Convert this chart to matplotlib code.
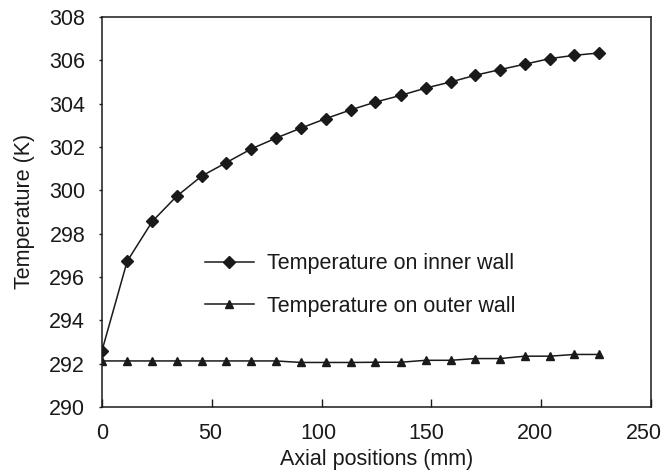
import matplotlib.pyplot as plt
from matplotlib.transforms import ScaledTranslation

plt.rcParams['font.family'] = ['Liberation Sans', 'DejaVu Sans']

# axial positions (mm)
positions = [0, 11.5, 23, 34, 45.5, 56.7, 68, 79.3, 90.6, 102, 113.5,
             124.5, 136, 147.5, 158.8, 170, 181.2, 192.5, 204, 215, 226.4]
# temperatures (K)
inner_wall = [292.58, 296.72, 298.57, 299.72, 300.66, 301.28, 301.91, 302.41,
              302.87, 303.31, 303.72, 304.07, 304.38, 304.72, 305.00, 305.31,
              305.57, 305.82, 306.08, 306.23, 306.34]
outer_wall = [292.12, 292.12, 292.12, 292.12, 292.12, 292.12, 292.12, 292.12,
              292.05, 292.05, 292.05, 292.06, 292.06, 292.15, 292.15, 292.23,
              292.23, 292.34, 292.34, 292.42, 292.42]

xticks = [0, 50, 100, 150, 200, 250]
yticks = [290, 292, 294, 296, 298, 300, 302, 304, 306, 308]

fs = 15.5
fig = plt.figure(figsize=(6.66, 4.72), dpi=100)
ax = fig.add_axes([0.153, 0.138, 0.8245, 0.826])

ax.plot(positions, inner_wall, color='#1a1a1a', marker='D', markersize=6.5,
        lw=1.1, label='Temperature on inner wall')
ax.plot(positions, outer_wall, color='#1a1a1a', marker='^', markersize=6,
        lw=1.1, label='Temperature on outer wall')

ax.set_xlim(0, 250)
ax.set_ylim(290, 308)
ax.set_xticks(xticks)
ax.set_yticks(yticks)
ax.tick_params(axis='x', direction='in', length=6, width=1, labelsize=fs, pad=11.5,
               colors='#1a1a1a')
ax.tick_params(axis='y', direction='out', length=2.5, width=1, labelsize=fs, pad=9.5,
               colors='#1a1a1a')
for s in ax.spines.values():
    s.set_linewidth(1.1)
    s.set_color('#1a1a1a')

# tick labels drift slightly left in the reference; keep the last one inside
for i, lab in enumerate(ax.get_xticklabels()):
    lab.set_transform(lab.get_transform() +
                      ScaledTranslation(-i * 1.1 / 72, 0, fig.dpi_scale_trans))

ax.set_xlabel('Axial positions (mm)', fontsize=fs, labelpad=4, color='#1a1a1a')
ax.set_ylabel('Temperature (K)', fontsize=fs, labelpad=10, color='#1a1a1a')

leg = ax.legend(loc='upper left', bbox_to_anchor=(0.1876, 0.394), frameon=False,
                fontsize=fs, handlelength=2.28, labelspacing=1.0, handletextpad=0.6,
                borderpad=0, borderaxespad=0)
for t in leg.get_texts():
    t.set_color('#1a1a1a')

fig.savefig('out.png', dpi=100)
